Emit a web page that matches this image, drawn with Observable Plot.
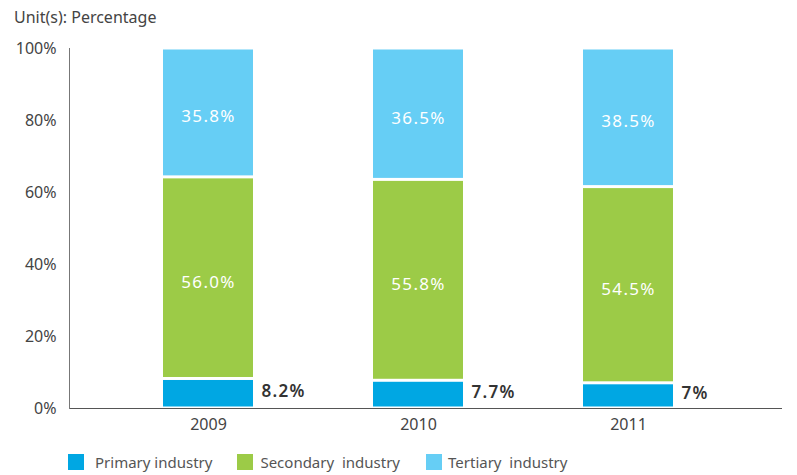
<!DOCTYPE html>
<html>
<head>
<meta charset="utf-8">
<script src="https://cdn.jsdelivr.net/npm/d3@7"></script>
<script src="https://cdn.jsdelivr.net/npm/@observablehq/plot@0.6"></script>
<style>
  body { margin: 0; background: #fff; font-family: "Noto Sans", sans-serif; color: #444; }
  #title { height: 34px; line-height: 34px; padding-left: 14px; font-size: 16px; color: #444; }
  #legend { display: flex; align-items: center; height: 31px; margin-top: 2px; padding-left: 68px; font-size: 15px; color: #555; }
  .item { display: flex; align-items: center; }
  .sw { width: 16px; height: 16px; }
</style>
</head>
<body>
<div id="title">Unit(s): Percentage</div>
<div id="chart"></div>
<div id="legend"></div>
<script>
const years = ["2009", "2010", "2011"];
const seriesNames = ["Primary industry", "Secondary  industry", "Tertiary  industry"];
const primary = [8.2, 7.7, 7];
const secondary = [56.0, 55.8, 54.5];
const tertiary = [35.8, 36.5, 38.5];
const primaryLabels = ["8.2%", "7.7%", "7%"];
const secondaryLabels = ["56.0%", "55.8%", "54.5%"];
const tertiaryLabels = ["35.8%", "36.5%", "38.5%"];
const yTicks = [0, 20, 40, 60, 80, 100];
const colors = ["#00a7e3", "#9ccb47", "#66cef5"];

const rows = [];
years.forEach((yr, i) => {
  const vals = [primary[i], secondary[i], tertiary[i]];
  const labs = [primaryLabels[i], secondaryLabels[i], tertiaryLabels[i]];
  let cum = 0;
  vals.forEach((v, k) => {
    rows.push({year: yr, series: seriesNames[k], value: v, mid: cum + v / 2, label: labs[k], k});
    cum += v;
  });
});

const chart = Plot.plot({
  width: 797,
  height: 410,
  marginLeft: 69,
  marginRight: 15,
  marginTop: 14,
  marginBottom: 36,
  style: {fontFamily: "Noto Sans, sans-serif", fontSize: "16px", color: "#444"},
  x: {domain: years, paddingInner: 0.5714, paddingOuter: 0.483, align: 0.463, label: null, tickSize: 0, tickPadding: 10},
  y: {domain: [0, 100], ticks: yTicks, tickFormat: d => d + "%", label: null, tickSize: 0, tickPadding: 13},
  color: {domain: seriesNames, range: colors},
  marks: [
    Plot.barY(rows, {x: "year", y: "value", fill: "series", insetTop: 1.5, insetBottom: 1.5}),
    Plot.text(rows.filter(d => d.k > 0), {x: "year", y: "mid", text: "label", fill: "white", fontSize: 17, dy: 4}),
    Plot.text(rows.filter(d => d.k === 0), {x: "year", y: "mid", text: "label", fill: "#333", fontSize: 17, fontWeight: 600, textAnchor: "start", dx: 53, dy: -2}),
    Plot.ruleY([0], {stroke: "#555", strokeWidth: 1.2}),
    Plot.frame({anchor: "left", stroke: "#777"})
  ]
});
d3.select(chart).selectAll('g[aria-label="text"] text').style("letter-spacing", "1.3px");
document.getElementById("chart").appendChild(chart);

const legend = document.getElementById("legend");
const gapsBefore = [0, 25, 26];
const gapsAfter = [11, 7, 6];
seriesNames.forEach((name, i) => {
  const it = document.createElement("div");
  it.className = "item";
  it.style.marginLeft = gapsBefore[i] + "px";
  const sw = document.createElement("div");
  sw.className = "sw";
  sw.style.background = colors[i];
  sw.style.marginRight = gapsAfter[i] + "px";
  const tx = document.createElement("span");
  tx.style.whiteSpace = "pre";
  tx.textContent = name;
  it.appendChild(sw);
  it.appendChild(tx);
  legend.appendChild(it);
});
</script>
</body>
</html>
